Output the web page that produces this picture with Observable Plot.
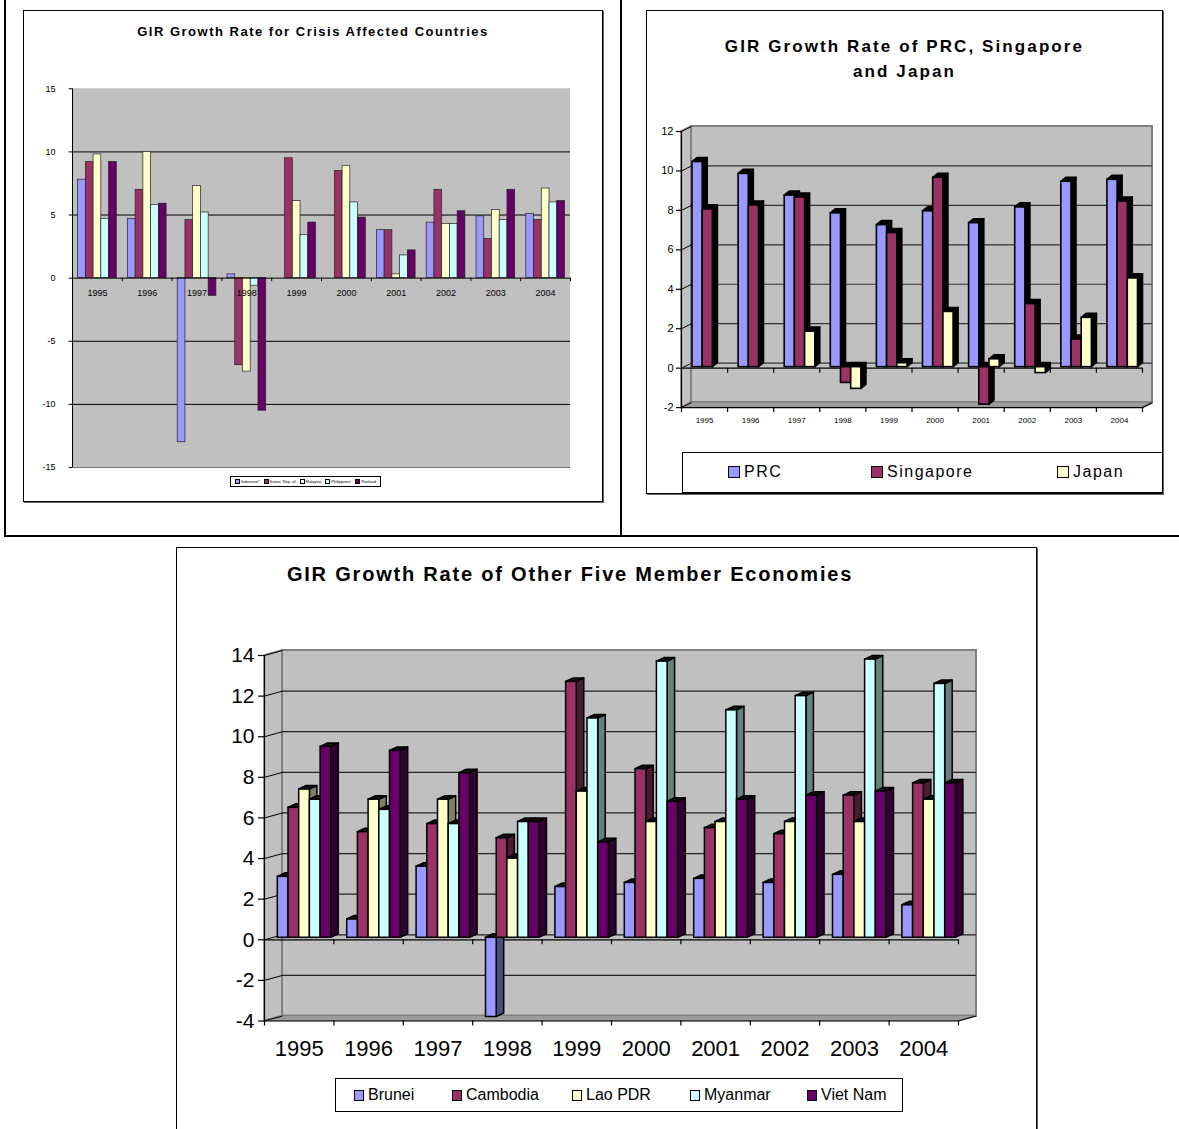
<!DOCTYPE html>
<html>
<head>
<meta charset="utf-8">
<script src="https://cdn.jsdelivr.net/npm/d3@7"></script>
<script src="https://cdn.jsdelivr.net/npm/@observablehq/plot@0.6"></script>
<style>
  html, body { margin: 0; padding: 0; background: #fff; }
  #page { position: relative; width: 1179px; height: 1129px; overflow: hidden; font-family: 'Liberation Sans', Arial, sans-serif; color: #000; }
  .box { position: absolute; border: 1px solid #000; box-shadow: 1px 1px 0 #666; box-sizing: border-box; background: #fff; }
  .line { position: absolute; background: #000; }
  .title { position: absolute; text-align: center; font-weight: bold; white-space: nowrap; }
  .legend { position: absolute; border: 1px solid #000; background: #fff; box-sizing: border-box; }
  .item { position: absolute; white-space: nowrap; }
  .sw { position: absolute; box-sizing: border-box; border: 1.5px solid #000; }
  .plot { position: absolute; }
</style>
</head>
<body>
<div id="page"></div>
<script>
// ---------------- DATA ----------------
const years = ["1995","1996","1997","1998","1999","2000","2001","2002","2003","2004"];

// Chart 1: GIR Growth Rate for Crisis Affected Countries
const crisisSeries = ["Indonesia*", "Korea, Rep. of", "Malaysia", "Philippines", "Thailand"];
const indonesia   = [7.8, 4.7, -13.0, 0.3, null, null, 3.8, 4.4, 4.9, 5.1];
const korea       = [9.2, 7.0, 4.6, -6.9, 9.5, 8.5, 3.8, 7.0, 3.1, 4.6];
const malaysia    = [9.8, 10.0, 7.3, -7.4, 6.1, 8.9, 0.3, 4.3, 5.4, 7.1];
const philippines = [4.7, 5.8, 5.2, -0.6, 3.4, 6.0, 1.8, 4.3, 4.6, 6.0];
const thailand    = [9.2, 5.9, -1.4, -10.5, 4.4, 4.8, 2.2, 5.3, 7.0, 6.1];
const crisisTicks = [-15, -10, -5, 0, 5, 10, 15];

// Chart 2: GIR Growth Rate of PRC, Singapore and Japan
const bigSeries = ["PRC", "Singapore", "Japan"];
const prc       = [10.4, 9.8, 8.7, 7.8, 7.2, 7.9, 7.3, 8.1, 9.4, 9.5];
const singapore = [8.0, 8.2, 8.6, -0.8, 6.8, 9.6, -1.9, 3.2, 1.4, 8.4];
const japan     = [null, null, 1.8, -1.1, 0.2, 2.8, 0.4, -0.3, 2.5, 4.5];
const bigTicks  = [-2, 0, 2, 4, 6, 8, 10, 12];

// Chart 3: GIR Growth Rate of Other Five Member Economies
const otherSeries = ["Brunei", "Cambodia", "Lao PDR", "Myanmar", "Viet Nam"];
const brunei   = [3.0, 0.9, 3.5, -3.9, 2.5, 2.7, 2.9, 2.7, 3.1, 1.6];
const cambodia = [6.4, 5.2, 5.6, 4.9, 12.6, 8.3, 5.4, 5.1, 7.0, 7.6];
const lao      = [7.3, 6.8, 6.8, 3.9, 7.2, 5.7, 5.7, 5.7, 5.7, 6.8];
const myanmar  = [6.8, 6.3, 5.6, 5.7, 10.8, 13.6, 11.2, 11.9, 13.7, 12.5];
const vietnam  = [9.4, 9.2, 8.1, 5.7, 4.7, 6.7, 6.8, 7.0, 7.2, 7.6];
const otherTicks = [-4, -2, 0, 2, 4, 6, 8, 10, 12, 14];

// ---------------- STYLE ----------------
const FONT = "'Liberation Sans', Arial, sans-serif";
const palette = ["#9999ff", "#993366", "#ffffcc", "#ccffff", "#660066"];
const sidePalette = ["#4d4d80", "#4d1a33", "#808066", "#668080", "#330033"];

const page = document.getElementById("page");
function div(cls, css, text) {
  const d = document.createElement("div");
  if (cls) d.className = cls;
  Object.assign(d.style, css);
  if (text != null) d.textContent = text;
  page.appendChild(d);
  return d;
}
function px(v) { return v + "px"; }

// Page frame
div("line", {left: "4px", top: "0px", width: "2px", height: "537px"});
div("line", {left: "620px", top: "0px", width: "2px", height: "537px"});
div("line", {left: "4px", top: "535px", width: "1175px", height: "2px"});

// Chart boxes
div("box", {left: "23px", top: "10px", width: "580px", height: "492px"});
div("box", {left: "646px", top: "10px", width: "517px", height: "484px"});
div("box", {left: "176px", top: "547px", width: "861px", height: "620px"});

// ---------------- CHART 1 (flat) ----------------
(function () {
  const L = 23, T = 60, W = 580, H = 420;
  const axisL = 72, axisR = 570, yTop = 88.3, yBot = 467;
  const n = years.length;
  const pxX = (axisR - axisL) / n, pxY = (yBot - yTop) / 30;
  const off = 5.6 / pxX, w = 7.74 / pxX;
  const series = [indonesia, korea, malaysia, philippines, thailand];
  const bars = [];
  series.forEach((vals, j) => vals.forEach((v, i) => {
    if (v == null) return;
    const x1 = i + off + j * w;
    bars.push({j, x1, x2: x1 + w, v});
  }));
  const svg = Plot.plot({
    width: W, height: H,
    marginLeft: axisL - L, marginRight: L + W - axisR, marginTop: yTop - T, marginBottom: T + H - yBot,
    x: {domain: [0, n], axis: null},
    y: {domain: [-15, 15], axis: null},
    color: {type: "identity"},
    style: {background: "transparent", overflow: "visible", fontFamily: FONT},
    marks: [
      Plot.rect([{}], {x1: 0, x2: n, y1: -15, y2: 15, fill: "#c0c0c0"}),
      Plot.ruleY(crisisTicks.filter(t => t !== 0 && t !== 15 && t !== -15), {x1: 0, x2: n, stroke: "#000", strokeWidth: 1}),
      Plot.ruleY([-15], {x1: 0, x2: n, stroke: "#777", strokeWidth: 1}),
      Plot.rect(bars, {x1: "x1", x2: "x2", y1: 0, y2: "v", fill: d => palette[d.j], stroke: "#222", strokeWidth: 0.7}),
      Plot.ruleY([0], {x1: 0, x2: n, stroke: "#000", strokeWidth: 1}),
      Plot.ruleX(d3.range(1, n + 1), {y1: 0, y2: -3.5 / pxY, stroke: "#000"}),
      Plot.ruleX([0], {y1: -15, y2: 15, stroke: "#000", strokeWidth: 1}),
      Plot.ruleY(crisisTicks, {x1: -3.3 / pxX, x2: 0, stroke: "#000"}),
      Plot.text(crisisTicks, {x: 0, y: d => d, text: d => String(d), textAnchor: "end", dx: -17, fontSize: 9, fontFamily: FONT, ariaLabel: "ylabels"}),
      Plot.text(years, {x: (d, i) => i + 0.5, y: 0, dy: 15, text: d => d, fontSize: 9, fontFamily: FONT, ariaLabel: "xlabels"})
    ]
  });
  d3.select(svg).selectAll('g[aria-label="ylabels"], g[aria-label="xlabels"]').attr("letter-spacing", "0.6px");
  svg.style.position = "absolute"; svg.style.left = px(L); svg.style.top = px(T);
  page.appendChild(svg);

  div("title", {left: "23px", top: "24px", width: "580px", fontSize: "13px", letterSpacing: "1.5px", lineHeight: "16px"},
    "GIR Growth Rate for Crisis Affected Countries");

  const lg = div("legend", {left: "230px", top: "476px", width: "151px", height: "11px", display: "flex", alignItems: "center", justifyContent: "space-evenly", fontSize: "4px"});
  crisisSeries.forEach((name, j) => {
    const it = document.createElement("span");
    it.style.display = "inline-flex"; it.style.alignItems = "center";
    const s = document.createElement("span");
    Object.assign(s.style, {display: "inline-block", width: "3px", height: "3px", background: palette[j], border: "0.5px solid #000", marginRight: "1px"});
    it.appendChild(s);
    it.appendChild(document.createTextNode(name));
    lg.appendChild(it);
  });
})();

// ---------------- 3D CHART BUILDER ----------------
function chart3d(cfg) {
  const n = years.length;
  const pxX = (cfg.axisR - cfg.axisL) / n;
  const pxY = (cfg.yBot - cfg.yTop) / (cfg.yMax - cfg.yMin);
  const wdx = cfg.wall[0] / pxX, wdy = cfg.wall[1] / pxY;
  const bdx = cfg.bar[0] / pxX, bdy = cfg.bar[1] / pxY;
  const off = cfg.barOff / pxX, w = cfg.barW / pxX;
  const yMin = cfg.yMin, yMax = cfg.yMax;
  const fronts = [], sides = [], tops = [];
  cfg.series.forEach((vals, j) => vals.forEach((v, i) => {
    if (v == null) return;
    const x1 = i + off + j * w, x2 = x1 + w, t = Math.max(v, 0), id = j + "-" + i;
    fronts.push({j, x1, x2, v});
    sides.push({id, j, x: x2, y1: 0, y2: v}, {id, j, x: x2 + bdx, y1: bdy, y2: v + bdy});
    tops.push({id, j, y: t, x1, x2}, {id, j, y: t + bdy, x1: x1 + bdx, x2: x2 + bdx});
  }));
  const bounds = d3.range(0, n + 1);
  const sw = cfg.strokeW, lift = cfg.lift;
  const svg = Plot.plot({
    width: cfg.W, height: cfg.H,
    marginLeft: cfg.axisL - cfg.L, marginRight: cfg.L + cfg.W - cfg.axisR,
    marginTop: cfg.yTop - cfg.T, marginBottom: cfg.T + cfg.H - cfg.yBot,
    x: {domain: [0, n], axis: null},
    y: {domain: [yMin, yMax], axis: null},
    color: {type: "identity"},
    style: {background: "transparent", overflow: "visible", fontFamily: FONT},
    marks: [
      // left side wall
      Plot.areaY([{x: 0, y1: yMin, y2: yMax}, {x: wdx, y1: yMin + wdy, y2: yMax + wdy}],
        {x: "x", y1: "y1", y2: "y2", fill: "#c0c0c0", stroke: "#808080", strokeWidth: 1.5}),
      // back wall
      Plot.rect([{}], {x1: wdx, x2: n + wdx, y1: yMin + wdy, y2: yMax + wdy, fill: "#c0c0c0", stroke: "#808080", strokeWidth: 2}),
      // floor
      Plot.areaX([{y: yMin, x1: 0, x2: n}, {y: yMin + wdy, x1: wdx, x2: n + wdx}],
        {y: "y", x1: "x1", x2: "x2", fill: "#9c9c9c", stroke: "#808080", strokeWidth: 1}),
      // back wall gridlines
      Plot.ruleY(cfg.ticks.filter(t => t > yMin && t < yMax), {y: d => d + wdy, x1: wdx, x2: n + wdx, stroke: cfg.gridColor, strokeWidth: 1.2}),
      // side wall gridlines
      Plot.link(cfg.ticks, {x1: 0, y1: d => d, x2: wdx, y2: d => d + wdy, stroke: "#000", strokeWidth: 1}),
      // axes
      Plot.ruleX([0], {y1: yMin, y2: yMax, stroke: "#000", strokeWidth: 1.2}),
      Plot.ruleY(cfg.ticks, {x1: -cfg.yTick / pxX, x2: 0, stroke: "#000", strokeWidth: 1.2}),
      Plot.ruleY([yMin], {x1: 0, x2: n, stroke: "#000", strokeWidth: 1.2}),
      Plot.ruleX(bounds, {y1: yMin, y2: yMin - cfg.catTick / pxY, stroke: "#000", strokeWidth: 1.2}),
      Plot.link([{}], {x1: n, y1: yMin, x2: n + wdx, y2: yMin + wdy, stroke: "#000", strokeWidth: 1.2}),
      Plot.ruleY([0], {x1: 0, x2: n, stroke: "#000", strokeWidth: 1.2}),
      Plot.ruleX(bounds.slice(1), {y1: 0, y2: -cfg.catTick / pxY, stroke: "#000", strokeWidth: 1.2}),
      // bars
      Plot.areaY(sides, {x: "x", y1: "y1", y2: "y2", z: "id", fill: d => cfg.sideColors[d.j], stroke: "#000", strokeWidth: sw, strokeLinejoin: "round", dy: -lift}),
      Plot.areaX(tops, {y: "y", x1: "x1", x2: "x2", z: "id", fill: d => cfg.topColors[d.j], stroke: "#000", strokeWidth: sw, strokeLinejoin: "round", dy: -lift}),
      Plot.rect(fronts, {x1: "x1", x2: "x2", y1: 0, y2: "v", fill: d => cfg.colors[d.j], stroke: "#000", strokeWidth: sw, dy: -lift}),
      // labels
      Plot.text(cfg.ticks, {x: 0, y: d => d, text: d => String(d), textAnchor: "end", dx: -cfg.yLabelGap, fontSize: cfg.yFont, fontFamily: FONT, ariaLabel: "ylabels"}),
      Plot.text(years, {x: (d, i) => i + 0.5, y: yMin, dy: cfg.xLabelDy, text: d => d, fontSize: cfg.xFont, fontFamily: FONT, ariaLabel: "xlabels"})
    ]
  });
  d3.select(svg).select('g[aria-label="ylabels"]').attr("letter-spacing", cfg.yLS);
  d3.select(svg).select('g[aria-label="xlabels"]').attr("letter-spacing", cfg.xLS);
  svg.style.position = "absolute"; svg.style.left = px(cfg.L); svg.style.top = px(cfg.T);
  page.appendChild(svg);
}

// ---------------- CHART 2 ----------------
chart3d({
  L: 646, T: 100, W: 517, H: 345,
  axisL: 681, axisR: 1142, yTop: 131, yBot: 407.1, yMin: -2, yMax: 12,
  ticks: bigTicks, wall: [10, 5], bar: [5, 4], barOff: 11, barW: 10.2, lift: 1,
  series: [prc, singapore, japan],
  colors: palette.slice(0, 3), sideColors: ["#000", "#000", "#000"], topColors: ["#000", "#000", "#000"],
  strokeW: 1.6, gridColor: "#333",
  yTick: 5, yLabelGap: 8, yFont: 11, yLS: "1px",
  catTick: 5, xLabelDy: 13, xFont: 8, xLS: "0.6px"
});
div("title", {left: "646px", top: "34px", width: "517px", fontSize: "17px", letterSpacing: "2.1px", lineHeight: "25px"},
  "").innerHTML = "GIR Growth Rate of PRC, Singapore<br>and Japan";
(function () {
  const lg = div("legend", {left: "682px", top: "452px", width: "481px", height: "41px"});
  const sws = [45, 188, 374];
  bigSeries.forEach((name, j) => {
    const s = document.createElement("div");
    s.className = "sw";
    Object.assign(s.style, {left: px(sws[j]), top: "13px", width: "12px", height: "12px", background: palette[j]});
    lg.appendChild(s);
    const t = document.createElement("div");
    t.className = "item";
    Object.assign(t.style, {left: px(sws[j] + 16), top: "10px", fontSize: "16px", letterSpacing: "1.5px", lineHeight: "18px"});
    t.textContent = name;
    lg.appendChild(t);
  });
})();

// ---------------- CHART 3 ----------------
chart3d({
  L: 176, T: 620, W: 861, H: 450,
  axisL: 264, axisR: 958, yTop: 655, yBot: 1020.5, yMin: -4, yMax: 14,
  ticks: otherTicks, wall: [18, 5], bar: [7.5, 3.5], barOff: 13.3, barW: 10.7, lift: 2,
  series: [brunei, cambodia, lao, myanmar, vietnam],
  colors: palette, sideColors: sidePalette, topColors: ["#111", "#111", "#111", "#111", "#111"],
  strokeW: 1.5, gridColor: "#222",
  yTick: 6, yLabelGap: 10, yFont: 21, yLS: "0px",
  catTick: 5, xLabelDy: 28, xFont: 22, xLS: "0px"
});
div("title", {left: "220px", top: "562px", width: "700px", fontSize: "20px", letterSpacing: "1.8px", lineHeight: "24px"},
  "GIR Growth Rate of Other Five Member Economies");
(function () {
  const lg = div("legend", {left: "335px", top: "1078px", width: "568px", height: "34px"});
  const sws = [18, 116, 236, 354, 471];
  otherSeries.forEach((name, j) => {
    const s = document.createElement("div");
    s.className = "sw";
    Object.assign(s.style, {left: px(sws[j]), top: "11px", width: "10px", height: "11px", background: palette[j]});
    lg.appendChild(s);
    const t = document.createElement("div");
    t.className = "item";
    Object.assign(t.style, {left: px(sws[j] + 14), top: "7px", fontSize: "16px", lineHeight: "18px"});
    t.textContent = name;
    lg.appendChild(t);
  });
})();
</script>
</body>
</html>
